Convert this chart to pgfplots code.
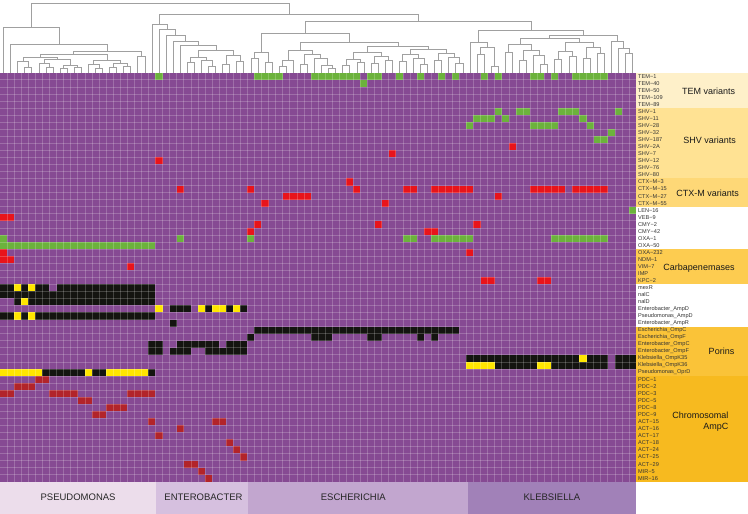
\documentclass[border=0pt]{standalone}
\usepackage{fontspec}
\setmainfont{Liberation Sans}
\usepackage{pgfplots}
\pgfplotsset{compat=1.18}
\definecolor{hmpurple}{HTML}{864A93}
\definecolor{cgreen}{HTML}{6CB23C}
\definecolor{cred}{HTML}{E8141B}
\definecolor{cdred}{HTML}{B2242A}
\definecolor{cblack}{HTML}{141410}
\definecolor{cyel}{HTML}{FFE600}
\definecolor{dendgray}{HTML}{A0A0A0}
\definecolor{labgray}{HTML}{333333}
\definecolor{gTEM}{HTML}{FEF0C9}
\definecolor{gSHV}{HTML}{FFE293}
\definecolor{gCTX}{HTML}{FED877}
\definecolor{gCAR}{HTML}{FDCC50}
\definecolor{gPOR}{HTML}{FAC338}
\definecolor{gAMP}{HTML}{F7BA1F}
\definecolor{bPse}{HTML}{ECDDEB}
\definecolor{bEnt}{HTML}{D6C0DF}
\definecolor{bEsc}{HTML}{C2A6CF}
\definecolor{bKle}{HTML}{A181B8}
% filled block: colour, x from, x to, y from, y to
\newcommand{\rc}[5]{\addplot[fill=#1,draw=none] coordinates {(#2,#4) (#3,#4) (#3,#5) (#2,#5)};}
% dendrogram link: x left, h left, h link, x right, h right
\newcommand{\lk}[5]{\addplot[dendgray,line width=0.65pt] coordinates {(#1,#2) (#1,#3) (#4,#3) (#4,#5)};}
\begin{document}
\begin{tikzpicture}
\useasboundingbox (0,0) rectangle (748pt,514pt);

% ---- gene group boxes on the right
\begin{axis}[at={(636pt,32.3pt)},anchor=south west,scale only axis,width=112pt,height=409pt,
 xmin=636,xmax=748,ymin=0,ymax=58,y dir=reverse,hide axis,clip=false]
\rc{gTEM}{636}{748}{0}{5}
\rc{gSHV}{636}{748}{5}{15}
\rc{gCTX}{636}{748}{15}{19}
\rc{gCAR}{636}{748}{25}{30}
\rc{gPOR}{636}{748}{36}{43}
\rc{gAMP}{636}{748}{43}{58}
\begin{scope}[every node/.style={font=\fontsize{9}{11}\selectfont,text=black!90}]
\node at (axis cs:708.7,2.6) {TEM variants};
\node at (axis cs:709.7,9.6) {SHV variants};
\node at (axis cs:707.7,17.1) {CTX-M variants};
\node at (axis cs:699,27.7) {Carbapenemases};
\node at (axis cs:721.5,39.5) {Porins};
\node[anchor=east,align=right] at (axis cs:732,49.5) {Chromosomal\\AmpC};
\end{scope}
\end{axis}

% ---- heatmap
\begin{axis}[at={(0pt,32.3pt)},anchor=south west,scale only axis,width=636pt,height=409pt,
 xmin=0,xmax=90,ymin=0,ymax=58,y dir=reverse,
 axis background/.style={fill=hmpurple},
 axis line style={draw=none},
 xtick={1,2,...,89},xticklabels={},
 ytick={0.5,1.5,...,57.5},
 yticklabels={TEM−1,TEM−40,TEM−50,TEM−109,TEM−89,SHV−1,SHV−11,SHV−28,SHV−32,SHV−187,SHV−2A,SHV−7,SHV−12,SHV−76,SHV−80,CTX−M−3,CTX−M−15,CTX−M−27,CTX−M−55,LEN−16,VEB−9,CMY−2,CMY−42,OXA−1,OXA−50,OXA−232,NDM−1,VIM−7,IMP,KPC−2,mexR,nalC,nalD,Enterobacter\_AmpD,Pseudomonas\_AmpD,Enterobacter\_AmpR,Escherichia\_OmpC,Escherichia\_OmpF,Enterobacter\_OmpC,Enterobacter\_OmpF,Klebsiella\_OmpK35,Klebsiella\_OmpK36,Pseudomonas\_OprD,PDC−1,PDC−2,PDC−3,PDC−5,PDC−8,PDC−9,ACT−15,ACT−16,ACT−17,ACT−18,ACT−24,ACT−25,ACT−29,MIR−5,MIR−16},
 yticklabel pos=right,
 yticklabel style={font=\fontsize{5.6}{6}\selectfont,text=labgray,anchor=west,inner sep=0pt,xshift=2pt},
 major tick length=0pt,minor tick length=0pt,
 minor ytick={1,2,...,57},
 xmajorgrids=true,ymajorgrids=false,yminorgrids=true,
 major grid style={white,opacity=0.2,line width=0.6pt},
 minor grid style={white,opacity=0.2,line width=0.6pt},
 axis on top]
% green: beta-lactamase variants
\rc{cgreen}{22}{23}{0}{1}
\rc{cgreen}{36}{40}{0}{1}
\rc{cgreen}{44}{51}{0}{1}
\rc{cgreen}{52}{54}{0}{1}
\rc{cgreen}{56}{57}{0}{1}
\rc{cgreen}{59}{60}{0}{1}
\rc{cgreen}{62}{63}{0}{1}
\rc{cgreen}{64}{65}{0}{1}
\rc{cgreen}{68}{69}{0}{1}
\rc{cgreen}{70}{71}{0}{1}
\rc{cgreen}{75}{77}{0}{1}
\rc{cgreen}{78}{79}{0}{1}
\rc{cgreen}{81}{86}{0}{1}
\rc{cgreen}{51}{52}{1}{2}
\rc{cgreen}{70}{71}{5}{6}
\rc{cgreen}{73}{75}{5}{6}
\rc{cgreen}{79}{82}{5}{6}
\rc{cgreen}{87}{88}{5}{6}
\rc{cgreen}{67}{70}{6}{7}
\rc{cgreen}{71}{72}{6}{7}
\rc{cgreen}{82}{83}{6}{7}
\rc{cgreen}{66}{67}{7}{8}
\rc{cgreen}{75}{79}{7}{8}
\rc{cgreen}{83}{84}{7}{8}
\rc{cgreen}{86}{87}{8}{9}
\rc{cgreen}{84}{86}{9}{10}
\rc{cgreen}{89}{90}{19}{20}
\rc{cgreen}{0}{1}{23}{24}
\rc{cgreen}{25}{26}{23}{24}
\rc{cgreen}{35}{36}{23}{24}
\rc{cgreen}{57}{59}{23}{24}
\rc{cgreen}{61}{67}{23}{24}
\rc{cgreen}{78}{86}{23}{24}
\rc{cgreen}{0}{22}{24}{25}
% red
\rc{cred}{72}{73}{10}{11}
\rc{cred}{55}{56}{11}{12}
\rc{cred}{22}{23}{12}{13}
\rc{cred}{49}{50}{15}{16}
\rc{cred}{25}{26}{16}{17}
\rc{cred}{35}{36}{16}{17}
\rc{cred}{50}{51}{16}{17}
\rc{cred}{57}{59}{16}{17}
\rc{cred}{61}{67}{16}{17}
\rc{cred}{75}{80}{16}{17}
\rc{cred}{81}{86}{16}{17}
\rc{cred}{40}{44}{17}{18}
\rc{cred}{70}{71}{17}{18}
\rc{cred}{37}{38}{18}{19}
\rc{cred}{54}{55}{18}{19}
\rc{cred}{0}{2}{20}{21}
\rc{cred}{36}{37}{21}{22}
\rc{cred}{53}{54}{21}{22}
\rc{cred}{67}{68}{21}{22}
\rc{cred}{35}{36}{22}{23}
\rc{cred}{60}{62}{22}{23}
\rc{cred}{0}{1}{25}{26}
\rc{cred}{66}{67}{25}{26}
\rc{cred}{0}{2}{26}{27}
\rc{cred}{18}{19}{27}{28}
\rc{cred}{68}{70}{29}{30}
\rc{cred}{76}{78}{29}{30}
% black
\rc{cblack}{0}{2}{30}{31}
\rc{cblack}{3}{4}{30}{31}
\rc{cblack}{5}{7}{30}{31}
\rc{cblack}{8}{22}{30}{31}
\rc{cblack}{0}{22}{31}{32}
\rc{cblack}{2}{3}{32}{33}
\rc{cblack}{4}{22}{32}{33}
\rc{cblack}{24}{27}{33}{34}
\rc{cblack}{29}{30}{33}{34}
\rc{cblack}{32}{33}{33}{34}
\rc{cblack}{34}{35}{33}{34}
\rc{cblack}{0}{2}{34}{35}
\rc{cblack}{3}{4}{34}{35}
\rc{cblack}{5}{22}{34}{35}
\rc{cblack}{24}{25}{35}{36}
\rc{cblack}{36}{65}{36}{37}
\rc{cblack}{35}{36}{37}{38}
\rc{cblack}{44}{47}{37}{38}
\rc{cblack}{52}{54}{37}{38}
\rc{cblack}{59}{60}{37}{38}
\rc{cblack}{61}{62}{37}{38}
\rc{cblack}{21}{23}{38}{39}
\rc{cblack}{25}{31}{38}{39}
\rc{cblack}{32}{35}{38}{39}
\rc{cblack}{21}{23}{39}{40}
\rc{cblack}{24}{27}{39}{40}
\rc{cblack}{29}{35}{39}{40}
\rc{cblack}{66}{82}{40}{41}
\rc{cblack}{83}{86}{40}{41}
\rc{cblack}{87}{90}{40}{41}
\rc{cblack}{70}{76}{41}{42}
\rc{cblack}{78}{86}{41}{42}
\rc{cblack}{87}{90}{41}{42}
\rc{cblack}{6}{12}{42}{43}
\rc{cblack}{13}{15}{42}{43}
\rc{cblack}{21}{22}{42}{43}
% yellow
\rc{cyel}{2}{3}{30}{31}
\rc{cyel}{4}{5}{30}{31}
\rc{cyel}{3}{4}{32}{33}
\rc{cyel}{22}{23}{33}{34}
\rc{cyel}{28}{29}{33}{34}
\rc{cyel}{30}{32}{33}{34}
\rc{cyel}{33}{34}{33}{34}
\rc{cyel}{2}{3}{34}{35}
\rc{cyel}{4}{5}{34}{35}
\rc{cyel}{82}{83}{40}{41}
\rc{cyel}{66}{70}{41}{42}
\rc{cyel}{76}{78}{41}{42}
\rc{cyel}{0}{6}{42}{43}
\rc{cyel}{12}{13}{42}{43}
\rc{cyel}{15}{21}{42}{43}
% dark red: chromosomal AmpC
\rc{cdred}{5}{7}{43}{44}
\rc{cdred}{2}{5}{44}{45}
\rc{cdred}{0}{2}{45}{46}
\rc{cdred}{7}{11}{45}{46}
\rc{cdred}{18}{22}{45}{46}
\rc{cdred}{11}{13}{46}{47}
\rc{cdred}{15}{18}{47}{48}
\rc{cdred}{13}{15}{48}{49}
\rc{cdred}{21}{22}{49}{50}
\rc{cdred}{30}{32}{49}{50}
\rc{cdred}{25}{26}{50}{51}
\rc{cdred}{22}{23}{51}{52}
\rc{cdred}{32}{33}{52}{53}
\rc{cdred}{33}{34}{53}{54}
\rc{cdred}{34}{35}{54}{55}
\rc{cdred}{26}{28}{55}{56}
\rc{cdred}{28}{29}{56}{57}
\rc{cdred}{29}{30}{57}{58}
\end{axis}

% ---- dendrogram
\begin{axis}[at={(0pt,441.3pt)},anchor=south west,scale only axis,width=636pt,height=72.7pt,
 xmin=0,xmax=90,ymin=0,ymax=72.7,hide axis,clip=false]
% Pseudomonas
\lk{3.5}{0}{5}{4.5}{0}
\lk{2.5}{0}{11}{4.0}{5}
\lk{6.5}{0}{5}{7.5}{0}
\lk{5.5}{0}{9}{7.0}{5}
\lk{8.5}{0}{4}{9.5}{0}
\lk{10.5}{0}{5}{11.5}{0}
\lk{9.0}{4}{7}{11.0}{5}
\lk{6.25}{9}{13}{10.0}{7}
\lk{3.25}{11}{15}{8.125}{13}
\lk{13.5}{0}{4}{14.5}{0}
\lk{12.5}{0}{8}{14.0}{4}
\lk{15.5}{0}{5}{16.5}{0}
\lk{17.5}{0}{6}{18.5}{0}
\lk{16.0}{5}{9}{18.0}{6}
\lk{13.25}{8}{12}{17.0}{9}
\lk{5.69}{15}{18}{15.125}{12}
\lk{19.5}{0}{16}{20.5}{0}
\lk{10.41}{18}{21}{20.0}{16}
\lk{1.5}{0}{28}{15.2}{21}
\lk{0.5}{0}{45}{8.35}{28}
% Enterobacter
\lk{26.5}{0}{10}{27.5}{0}
\lk{29.5}{0}{6}{30.5}{0}
\lk{28.5}{0}{12}{30.0}{6}
\lk{27.0}{10}{15}{29.25}{12}
\lk{31.5}{0}{8}{32.5}{0}
\lk{33.5}{0}{11}{34.5}{0}
\lk{32.0}{8}{17}{34.0}{11}
\lk{28.125}{15}{22}{33.0}{17}
\lk{25.5}{0}{27}{30.56}{22}
\lk{24.5}{0}{31}{28.03}{27}
\lk{23.5}{0}{37}{26.27}{31}
\lk{22.5}{0}{43}{24.88}{37}
\lk{21.5}{0}{48}{23.69}{43}
% Escherichia
\lk{35.5}{0}{14}{36.5}{0}
\lk{37.5}{0}{10}{38.5}{0}
\lk{36.0}{14}{20}{38.0}{10}
\lk{39.5}{0}{6}{40.5}{0}
\lk{40.0}{6}{12}{41.5}{0}
\lk{42.5}{0}{8}{43.5}{0}
\lk{46.5}{0}{4}{47.5}{0}
\lk{45.5}{0}{7}{47.0}{4}
\lk{44.5}{0}{14}{46.25}{7}
\lk{43.0}{8}{18}{45.375}{14}
\lk{40.75}{12}{22}{44.19}{18}
\lk{48.5}{0}{7}{49.5}{0}
\lk{50.5}{0}{10}{51.5}{0}
\lk{49.0}{7}{13}{51.0}{10}
\lk{52.5}{0}{9}{53.5}{0}
\lk{54.5}{0}{12}{55.5}{0}
\lk{53.0}{9}{16}{55.0}{12}
\lk{50.0}{13}{20}{54.0}{16}
\lk{56.5}{0}{11}{57.5}{0}
\lk{59.5}{0}{8}{60.5}{0}
\lk{58.5}{0}{14}{60.0}{8}
\lk{57.0}{11}{18}{59.25}{14}
\lk{61.5}{0}{12}{62.5}{0}
\lk{64.5}{0}{9}{65.5}{0}
\lk{63.5}{0}{15}{65.0}{9}
\lk{62.0}{12}{19}{64.25}{15}
\lk{58.125}{18}{23}{63.125}{19}
\lk{52.0}{20}{26}{60.625}{23}
\lk{42.47}{22}{30}{56.31}{26}
\lk{37.0}{20}{39}{49.39}{30}
% Klebsiella
\lk{67.5}{0}{18}{68.5}{0}
\lk{69.5}{0}{6}{70.5}{0}
\lk{68.0}{18}{25}{70.0}{6}
\lk{66.5}{0}{30}{69.0}{25}
\lk{88.5}{0}{19}{89.5}{0}
\lk{87.5}{0}{24}{89.0}{19}
\lk{86.5}{0}{31}{88.25}{24}
\lk{71.5}{0}{20}{72.5}{0}
\lk{73.5}{0}{12}{74.5}{0}
\lk{76.5}{0}{8}{77.5}{0}
\lk{75.5}{0}{17}{77.0}{8}
\lk{74.0}{12}{22}{76.25}{17}
\lk{72.0}{20}{28}{75.125}{22}
\lk{78.5}{0}{13}{79.5}{0}
\lk{80.5}{0}{16}{81.5}{0}
\lk{79.0}{13}{21}{81.0}{16}
\lk{82.5}{0}{14}{83.5}{0}
\lk{84.5}{0}{19}{85.5}{0}
\lk{83.0}{14}{25}{85.0}{19}
\lk{80.0}{21}{30}{84.0}{25}
\lk{73.56}{28}{34}{82.0}{30}
\lk{77.78}{34}{37}{87.375}{31}
\lk{67.75}{30}{42}{82.58}{37}
% upper levels
\lk{43.2}{39}{51}{75.17}{42}
\lk{22.6}{48}{58}{59.19}{51}
\lk{4.43}{45}{69}{40.9}{58}
\end{axis}

% ---- genus bar
\begin{axis}[at={(0pt,0pt)},anchor=south west,scale only axis,width=636pt,height=32.3pt,
 xmin=0,xmax=90,ymin=0,ymax=1,hide axis,clip=false]
\rc{bPse}{0}{22.07}{0}{1}
\rc{bEnt}{22.07}{35.09}{0}{1}
\rc{bEsc}{35.09}{66.2}{0}{1}
\rc{bKle}{66.2}{90}{0}{1}
\begin{scope}[every node/.style={font=\fontsize{9.5}{11}\selectfont,text=black!85}]
\node at (axis cs:11.05,0.52) {PSEUDOMONAS};
\node at (axis cs:28.8,0.52) {ENTEROBACTER};
\node at (axis cs:50.0,0.52) {ESCHERICHIA};
\node at (axis cs:78.1,0.52) {KLEBSIELLA};
\end{scope}
\end{axis}
\end{tikzpicture}
\end{document}
